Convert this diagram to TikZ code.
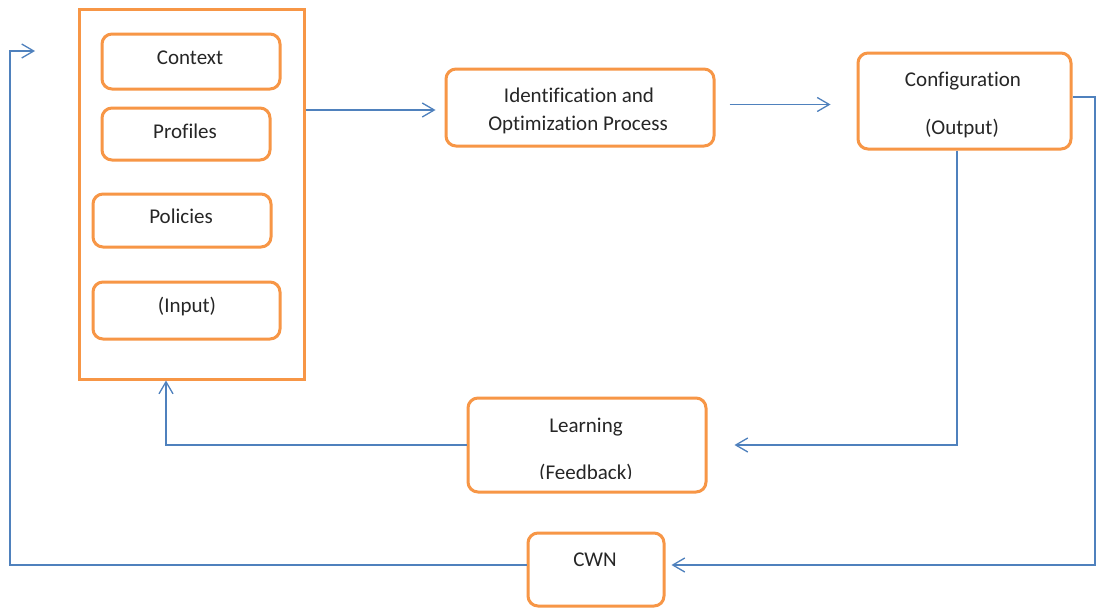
\documentclass[tikz,border=0pt]{standalone}
\usepackage{fontspec}
\setmainfont{Carlito}[Ligatures=NoCommon]
\usetikzlibrary{arrows.meta,calc}
\definecolor{boxorange}{RGB}{247,150,70}
\definecolor{linkblue}{RGB}{79,129,189}
\tikzset{
  box/.style={draw=boxorange, line width=3pt, rounded corners=10pt, fill=white,
    inner sep=0pt},
  frame/.style={draw=boxorange, line width=3pt, inner sep=0pt},
  txt/.style={anchor=base, inner sep=0pt, font=\fontsize{21}{25}\selectfont, text=black!85},
  link/.style={draw=linkblue, line width=1.3pt},
  arr/.style={link, -{Straight Barb[length=12pt,width=14pt,line width=1.3pt]}}
}
\begin{document}
\begin{tikzpicture}[x=1pt,y=-1pt]
  \useasboundingbox[fill=white] (0,0) rectangle (1099,608);

  % input group
  \node[frame, minimum width=225pt, minimum height=370pt] (in) at (191.5,194) {};
  \node[box, minimum width=178pt, minimum height=55pt] (ctx) at (191,61.5) {};
  \node[box, minimum width=168pt, minimum height=52pt] (prof) at (186,134) {};
  \node[box, minimum width=178pt, minimum height=53pt] (pol) at (182,220.5) {};
  \node[box, minimum width=187pt, minimum height=57pt] (inp) at (186.5,310.5) {};
  \node[txt] (ctx-t) at (190,64) {Context};
  \node[txt] (prof-t) at (185,138) {Profiles};
  \node[txt] (pol-t) at (181,223) {Policies};
  \node[txt] (inp-t) at (187,312) {(Input)};

  % processing, output, feedback, network
  \node[box, minimum width=268pt, minimum height=77pt] (id) at (580,107.5) {};
  \node[txt] (id-t1) at (579,102) {Identification and};
  \node[txt] (id-t2) at (578,130) {Optimization Process};

  \node[box, minimum width=213pt, minimum height=96pt] (conf) at (964.5,101) {};
  \node[txt] (conf-t1) at (963,86) {Configuration};
  \node[txt] (conf-t2) at (962,134) {(Output)};

  \node[box, minimum width=238pt, minimum height=94pt] (learn) at (587,445) {};
  \node[txt] (learn-t1) at (586,432) {Learning};
  \begin{scope}
    \clip (0,0) rectangle (1099,478);
    \node[txt] (learn-t2) at (586,479) {(Feedback)};
  \end{scope}

  \node[box, minimum width=136pt, minimum height=73pt] (cwn) at (596,569.5) {};
  \node[txt] (cwn-t) at (595,566) {CWN};

  % connectors
  \draw[arr, shorten >=9pt] (in.east |- 0,110) -- (id.west |- 0,110);
  \draw[arr, shorten <=14pt, shorten >=26pt] (id.east |- 0,104.5) -- (conf.west |- 0,104.5);
  \draw[arr, shorten >=27pt] (conf.south -| 957,0) |- (learn.east |- 0,445);
  \draw[arr] (learn.west) -| (in.south -| 166,0);
  \draw[arr, shorten >=6pt] (conf.east |- 0,97) -| (1095,565) -- (cwn.east |- 0,565);
  \coordinate (loop-end) at (35,51);
  \draw[arr] (cwn.west |- 0,565) -| (10,51) -- (loop-end);
\end{tikzpicture}
\end{document}
